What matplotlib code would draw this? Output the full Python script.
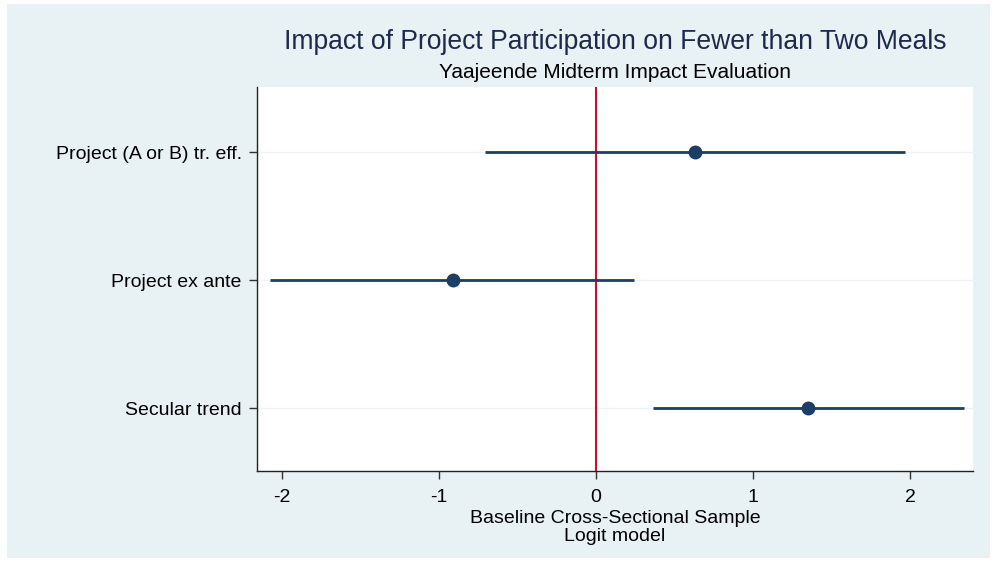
import matplotlib
matplotlib.use("Agg")
import matplotlib.pyplot as plt
from matplotlib.patches import Rectangle

plt.rcParams["font.family"] = ["Liberation Sans", "DejaVu Sans"]

categories = ["Project (A or B) tr. eff.", "Project ex ante", "Secular trend"]
estimates = [0.63, -0.91, 1.35]
ci_low = [-0.71, -2.08, 0.36]
ci_high = [1.97, 0.24, 2.34]
xticks = [-2, -1, 0, 1, 2]

W, H = 997, 562
fig = plt.figure(figsize=(W / 100, H / 100), dpi=100)
fig.patch.set_facecolor("white")
fig.patches.append(Rectangle((7 / W, 4 / H), (990 - 7) / W, (558 - 4) / H,
                             transform=fig.transFigure, facecolor="#E8F1F4",
                             edgecolor="none", zorder=-10))

left, right, top, bottom = 257, 973, 87, 471
ax = fig.add_axes([left / W, 1 - bottom / H, (right - left) / W, (bottom - top) / H])
ax.set_facecolor("white")

ypos = list(range(1, len(categories) + 1))
navy = "#1B3F66"
for y in ypos:
    ax.axhline(y, color="#EEF2F4", lw=1.0, zorder=1)
ax.axvline(0, color="#C8102E", lw=1.5, zorder=2)
ax.hlines(ypos, ci_low, ci_high, color=navy, lw=2.0, zorder=3)
ax.plot(estimates, ypos, "o", color=navy, ms=9, zorder=4)

ax.set_xlim(-2.16, 2.40)
ax.set_ylim(3.49, 0.49)
ax.set_yticks(ypos)
ax.set_yticklabels(categories, fontsize=14)
ax.set_xticks(xticks)
ax.set_xticklabels([str(t) for t in xticks], fontsize=14)
ax.tick_params(axis="both", length=6, width=1, color="#333333")
ax.tick_params(axis="x", pad=7)
ax.tick_params(axis="y", pad=5)
for s in ["top", "right"]:
    ax.spines[s].set_visible(False)
for s in ["left", "bottom"]:
    ax.spines[s].set_color("#222222")
    ax.spines[s].set_linewidth(1.0)

ax.set_xlabel("Baseline Cross-Sectional Sample\nLogit model", fontsize=14,
              labelpad=3, linespacing=1.05)

cx = (left + right) / 2 / W
fig.text(cx, 1 - 42 / H, "Impact of Project Participation on Fewer than Two Meals",
         ha="center", va="center", fontsize=19.1, color="#1E2A4A")
fig.text(cx, 1 - 73 / H, "Yaajeende Midterm Impact Evaluation",
         ha="center", va="center", fontsize=15, color="black")

fig.savefig("out.png", dpi=100)
